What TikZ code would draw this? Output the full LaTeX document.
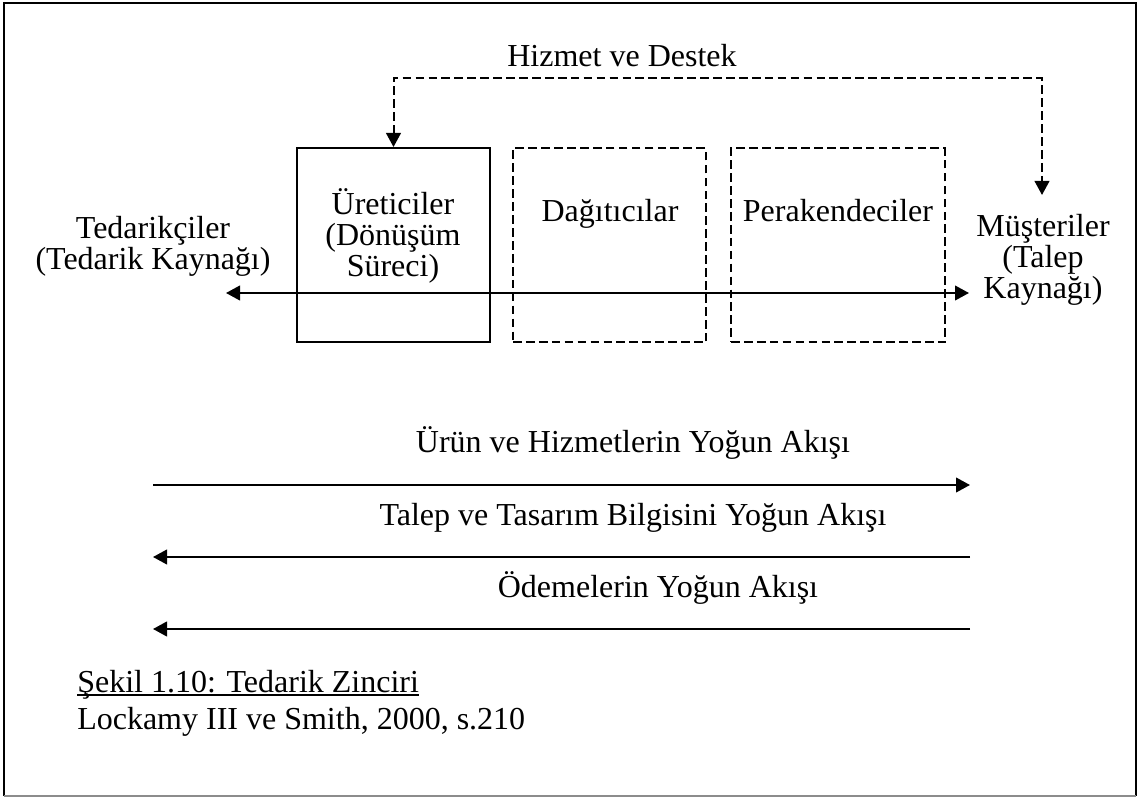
\documentclass[tikz,border=0pt]{standalone}
\usepackage{fontspec}
\setmainfont{Liberation Serif}
\usetikzlibrary{arrows.meta}
\begin{document}
\begin{tikzpicture}[x=0.75pt,y=-0.75pt,
  lbl/.style={font=\fontsize{24}{23.25}\selectfont, inner sep=0pt, align=center, anchor=base},
  stage/.style={draw, line width=1.5pt, minimum height=145.5pt, inner sep=0pt},
  dstage/.style={stage, dash pattern=on 6.5pt off 3.2pt},
  tip/.style={-{Triangle[length=10.5pt,width=11pt]}},
  flow/.style={line width=1.5pt, tip},
  service/.style={line width=1.5pt, dash pattern=on 6.5pt off 3.2pt,
    {Triangle[length=10.5pt,width=11pt]}-{Triangle[length=10.5pt,width=11pt]}}
]
\useasboundingbox (0,0) rectangle (1139,798);

% page frame
\draw[line width=2pt] (4,796) -- (4,3) -- (1136,3) -- (1136,796);
\draw[line width=1pt, black!45] (4,796) -- (1136,796);

% stages of the chain
\node[stage, minimum width=144.75pt] (ure) at (393.5,245) {};
\node[dstage, minimum width=144.75pt] (dag) at (609.5,245.5) {};
\node[dstage, minimum width=160.5pt] (per) at (838,245.5) {};

% multi-line labels are placed by the baseline of their last line
\node[lbl] (uret) at (393,277) {Üreticiler\\(Dönüşüm\\Süreci)};
\node[lbl] (dagt) at (610,222) {Dağıtıcılar};
\node[lbl] (pert) at (838,222) {Perakendeciler};
\node[lbl] (ted) at (153,270) {Tedarikçiler\\(Tedarik Kaynağı)};
\node[lbl] (mus) at (1043,299) {Müşteriler\\(Talep\\Kaynağı)};
\node[lbl] (hd) at (622,67) {Hizmet ve Destek};

% service and support loop
\coordinate (corner) at (1042,78);
\coordinate (mtip) at (1042,195);
\draw[service] (ure.north) |- (corner) -- (mtip);

% chain axis
\coordinate (lend) at (226,293);
\coordinate (rend) at (969,293);
\draw[line width=1.5pt, {Triangle[length=10.5pt,width=11pt]}-{Triangle[length=10.5pt,width=11pt]}] (lend) -- (rend);

% flows
\node[lbl] (f1) at (633,453) {Ürün ve Hizmetlerin Yoğun Akışı};
\node[lbl] (f2) at (633,525) {Talep ve Tasarım Bilgisini Yoğun Akışı};
\node[lbl] (f3) at (658,597) {Ödemelerin Yoğun Akışı};

\coordinate (a1l) at (153,485);
\coordinate (a1r) at (970,485);
\coordinate (a2l) at (153,557);
\coordinate (a2r) at (970,557);
\coordinate (a3l) at (153,629);
\coordinate (a3m) at (368,629);
\coordinate (a3n) at (946,629);
\coordinate (a3r) at (970,629);
\draw[flow] (a1l) -- (a1r);
\draw[flow] (a2r) -- (a2l);
\draw[line width=1pt] (a3n) -- (a3m);
\draw[line width=1.6pt] (a3r) -- (a3n);
\draw[flow, line width=1.6pt] (a3m) -- (a3l);

% caption
\node[lbl, anchor=base west] (cap1) at (77,692) {Şekil 1.10: Tedarik Zinciri};
\node[lbl, anchor=base west] (cap2) at (77,729) {Lockamy III ve Smith, 2000, s.210};
\draw[line width=1.5pt] ([yshift=-2.3pt]cap1.base west) -- ([yshift=-2.3pt]cap1.base east);
\end{tikzpicture}
\end{document}
